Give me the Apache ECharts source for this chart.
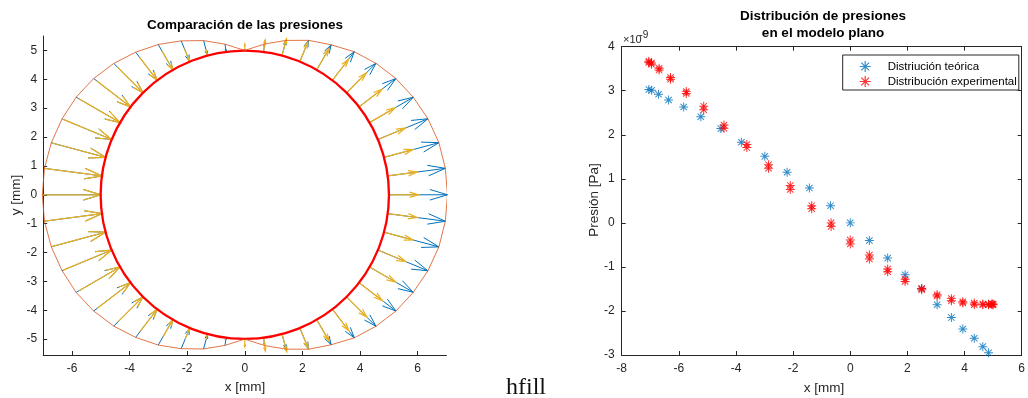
<!DOCTYPE html>
<html>
<head>
<meta charset="utf-8">
<script src="https://cdn.jsdelivr.net/npm/echarts@6/dist/echarts.min.js"></script>
<style>
  html, body { margin: 0; padding: 0; background: #fff; }
  #chart { width: 1028px; height: 398px; }
</style>
</head>
<body>
<div id="chart"></div>
<script>
// upper half angles (deg); lower half is the mirror
const angles = [0, 7.5, 15, 22.5, 30, 37.5, 45, 52.5, 60, 67.5, 75, 82.5, 90,
  97.5, 105, 112.5, 120, 127.5, 135, 142.5, 150, 157.5, 165, 172.5, 180];
// pressures, x1e-9 Pa
const presTeo = [-3.04, -3.02, -2.95, -2.81, -2.62, -2.41, -2.15, -1.86, -1.49, -1.18, -0.80, -0.40, 0.00,
  0.39, 0.79, 1.15, 1.51, 1.83, 2.14, 2.41, 2.63, 2.79, 2.92, 3.01, 3.03];
const presExpSup = [-1.84, -1.85, -1.85, -1.84, -1.82, -1.79, -1.72, -1.63, -1.49, -1.28, -1.05, -0.73, -0.39,
  0.00, 0.39, 0.85, 1.32, 1.78, 2.22, 2.65, 2.98, 3.30, 3.51, 3.63, 3.67];
const presExpInf = [-1.86, -1.84, -1.86, -1.86, -1.86, -1.82, -1.77, -1.66, -1.52, -1.33, -1.11, -0.82, -0.48,
  -0.08, 0.32, 0.76, 1.24, 1.71, 2.15, 2.57, 2.94, 3.26, 3.47, 3.60, 3.64];
// x [mm] where each pressure is plotted on the right
const xTeo = [5.00, 4.96, 4.84, 4.64, 4.34, 3.94, 3.54, 3.04, 2.50, 1.92, 1.31, 0.67, 0.00,
  -0.69, -1.43, -2.21, -2.99, -3.81, -4.53, -5.23, -5.83, -6.36, -6.71, -6.95, -7.05];
const xExp = [5.00, 4.96, 4.84, 4.64, 4.34, 3.94, 3.54, 3.04, 2.50, 1.92, 1.31, 0.67, 0.00,
  -0.67, -1.35, -2.10, -2.86, -3.62, -4.42, -5.13, -5.74, -6.29, -6.69, -6.96, -7.05];
const radius = 5;
const xTicksLeft = [-6, -4, -2, 0, 2, 4, 6];
const yTicksLeft = [-5, -4, -3, -2, -1, 0, 1, 2, 3, 4, 5];

const scaleTeo = 0.67, scaleExp = 0.56;   // quiver autoscale, mm per 1e-9 Pa
const headA = 0.3, headB = 0.3;
const font = 'Liberation Sans, Arial, Helvetica, sans-serif';
const ink = '#262626';

// arrow [tail x, tail y, tip x, tip y] for an angle and a pressure
const arrow = (deg, p, s) => {
  const a = deg * Math.PI / 180;
  const rOut = radius + Math.abs(p) * s;
  const r0 = p > 0 ? rOut : radius;
  const r1 = p > 0 ? radius : rOut;
  return [r0 * Math.cos(a), r0 * Math.sin(a), r1 * Math.cos(a), r1 * Math.sin(a)];
};
const arrowsFor = (sup, inf, s) => {
  const out = [];
  angles.forEach((d, i) => out.push(arrow(d, sup[i], s)));
  angles.forEach((d, i) => { if (d > 0 && d < 180) out.push(arrow(-d, inf[i], s)); });
  return out;
};
const arrowsTeo = arrowsFor(presTeo, presTeo, scaleTeo);
const arrowsExp = arrowsFor(presExpSup, presExpInf, scaleExp);

// outer envelope through theoretical arrow ends
let envelope = [];
angles.forEach((d, i) => {
  const r = radius + Math.abs(presTeo[i]) * scaleTeo, a = d * Math.PI / 180;
  envelope.push([r * Math.cos(a), r * Math.sin(a)]);
});
for (let i = angles.length - 2; i >= 0; i--) {
  const r = radius + Math.abs(presTeo[i]) * scaleTeo, a = -angles[i] * Math.PI / 180;
  envelope.push([r * Math.cos(a), r * Math.sin(a)]);
}

const renderArrow = (color, w) => (params, api) => {
  const x0 = api.value(0), y0 = api.value(1), x1 = api.value(2), y1 = api.value(3);
  const u = x1 - x0, v = y1 - y0;
  const p0 = api.coord([x0, y0]), p1 = api.coord([x1, y1]);
  const h1 = api.coord([x1 - headA * (u + headB * v), y1 - headA * (v - headB * u)]);
  const h2 = api.coord([x1 - headA * (u - headB * v), y1 - headA * (v + headB * u)]);
  const st = { stroke: color, fill: null, lineWidth: w };
  return {
    type: 'group',
    children: [
      { type: 'line', shape: { x1: p0[0], y1: p0[1], x2: p1[0], y2: p1[1] }, style: st },
      { type: 'polyline', shape: { points: [h1, p1, h2] }, style: st }
    ]
  };
};

const star = 'path://M-0.55,-5L0.55,-5L0.55,5L-0.55,5Z M-5,-0.55L5,-0.55L5,0.55L-5,0.55Z' +
  'M-3.147,-3.925L3.925,3.147L3.147,3.925L-3.925,-3.147Z' +
  'M-3.925,3.147L3.147,-3.925L3.925,-3.147L-3.147,3.925Z';

const chart = echarts.init(document.getElementById('chart'), null, { renderer: 'canvas' });

const axisBase = {
  axisLine: { show: true, onZero: false, lineStyle: { color: ink, width: 1 } },
  axisTick: { show: true, inside: true, length: 4, lineStyle: { color: ink } },
  axisLabel: { color: ink, fontSize: 12, fontFamily: font },
  splitLine: { show: false }
};

chart.setOption({
  animation: false,
  backgroundColor: '#fff',
  grid: [
    { left: 43.2, width: 403.2, top: 36, height: 319 },
    { left: 621.7, width: 404.3, top: 46.7, height: 308.3 }
  ],
  xAxis: [
    Object.assign({}, axisBase, {
      type: 'value', gridIndex: 0, min: -7, max: 7,
      axisTick: Object.assign({}, axisBase.axisTick, { customValues: xTicksLeft }),
      axisLabel: Object.assign({}, axisBase.axisLabel, { customValues: xTicksLeft, margin: 8 })
    }),
    Object.assign({}, axisBase, {
      type: 'value', gridIndex: 1, min: -8, max: 6, interval: 2,
      axisLabel: Object.assign({}, axisBase.axisLabel, { margin: 8, showMaxLabel: true, showMinLabel: true })
    }),
    Object.assign({}, axisBase, {
      type: 'value', gridIndex: 1, min: -8, max: 6, interval: 2, position: 'top',
      axisLabel: { show: false }
    })
  ],
  yAxis: [
    Object.assign({}, axisBase, {
      type: 'value', gridIndex: 0, min: -5.55, max: 5.5,
      axisTick: Object.assign({}, axisBase.axisTick, { customValues: yTicksLeft }),
      axisLabel: Object.assign({}, axisBase.axisLabel, { customValues: yTicksLeft, margin: 6 })
    }),
    Object.assign({}, axisBase, {
      type: 'value', gridIndex: 1, min: -3, max: 4, interval: 1,
      axisLabel: Object.assign({}, axisBase.axisLabel, { margin: 7 })
    }),
    Object.assign({}, axisBase, {
      type: 'value', gridIndex: 1, min: -3, max: 4, interval: 1, position: 'right',
      axisLabel: { show: false }
    })
  ],
  legend: {
    orient: 'vertical',
    left: 842.7, top: 55,
    padding: [5.5, 2, 2.5, 17],
    itemGap: 3,
    itemWidth: 35, itemHeight: 11,
    borderColor: ink, borderWidth: 1, borderRadius: 0,
    backgroundColor: '#fff',
    textStyle: { fontSize: 11.5, fontFamily: font, color: '#000' },
    data: ['Distriución teórica', 'Distribución experimental']
  },
  series: [
    {
      type: 'custom', xAxisIndex: 0, yAxisIndex: 0,
      renderItem: renderArrow('#0072BD', 1),
      encode: { x: [0, 2], y: [1, 3] },
      data: arrowsTeo, silent: true
    },
    {
      type: 'line', xAxisIndex: 0, yAxisIndex: 0,
      data: envelope, showSymbol: false, symbol: 'none',
      lineStyle: { color: '#D95319', width: 0.8 }, silent: true
    },
    {
      type: 'custom', xAxisIndex: 0, yAxisIndex: 0,
      renderItem: renderArrow('#EDB120', 1.25),
      encode: { x: [0, 2], y: [1, 3] },
      data: arrowsExp, silent: true
    },
    {
      type: 'custom', xAxisIndex: 0, yAxisIndex: 0,
      renderItem: (params, api) => {
        const c = api.coord([api.value(0), api.value(1)]);
        const s = api.size([api.value(2), api.value(2)]);
        return {
          type: 'circle',
          shape: { cx: c[0], cy: c[1], r: (s[0] + s[1]) / 2 },
          style: { stroke: '#FF0000', fill: null, lineWidth: 2.3 }
        };
      },
      data: [[0, 0, radius]], silent: true
    },
    {
      name: 'Distriución teórica', type: 'scatter', xAxisIndex: 1, yAxisIndex: 1,
      symbol: star, symbolSize: 9, symbolKeepAspect: true,
      itemStyle: { color: '#0072BD' },
      data: xTeo.map((x, i) => [x, presTeo[i]])
    },
    {
      name: 'Distribución experimental', type: 'scatter', xAxisIndex: 1, yAxisIndex: 1,
      symbol: star, symbolSize: 9, symbolKeepAspect: true,
      itemStyle: { color: '#FF0000' },
      data: xExp.map((x, i) => [x, presExpSup[i]]).concat(xExp.map((x, i) => [x, presExpInf[i]]))
    }
  ],
  graphic: [
    { type: 'text', x: 245, y: 25, style: { text: 'Comparación de las presiones', font: 'bold 13.5px ' + font, fill: '#000', align: 'center', verticalAlign: 'middle' } },
    { type: 'text', x: 823, y: 16, style: { text: 'Distribución de presiones', font: 'bold 13.5px ' + font, fill: '#000', align: 'center', verticalAlign: 'middle' } },
    { type: 'text', x: 823, y: 33, style: { text: 'en el modelo plano', font: 'bold 13.5px ' + font, fill: '#000', align: 'center', verticalAlign: 'middle' } },
    { type: 'text', x: 245, y: 387, style: { text: 'x [mm]', font: '13.5px ' + font, fill: ink, align: 'center', verticalAlign: 'middle' } },
    { type: 'text', x: 16, y: 195, rotation: Math.PI / 2, style: { text: 'y [mm]', font: '13.5px ' + font, fill: ink, align: 'center', verticalAlign: 'middle' } },
    { type: 'text', x: 824, y: 388, style: { text: 'x [mm]', font: '13.5px ' + font, fill: ink, align: 'center', verticalAlign: 'middle' } },
    { type: 'text', x: 594, y: 200, rotation: Math.PI / 2, style: { text: 'Presión [Pa]', font: '13.5px ' + font, fill: ink, align: 'center', verticalAlign: 'middle' } },
    { type: 'text', x: 623, y: 40, style: { text: '×10', font: '11px ' + font, fill: ink, align: 'left', verticalAlign: 'middle' } },
    { type: 'text', x: 639.5, y: 35, style: { text: '-9', font: '10px ' + font, fill: ink, align: 'left', verticalAlign: 'middle' } },
    { type: 'text', x: 526, y: 388, style: { text: 'hfill', font: '24px Liberation Serif, Times New Roman, serif', fill: '#111', align: 'center', verticalAlign: 'middle' } }
  ]
});
</script>
</body>
</html>
